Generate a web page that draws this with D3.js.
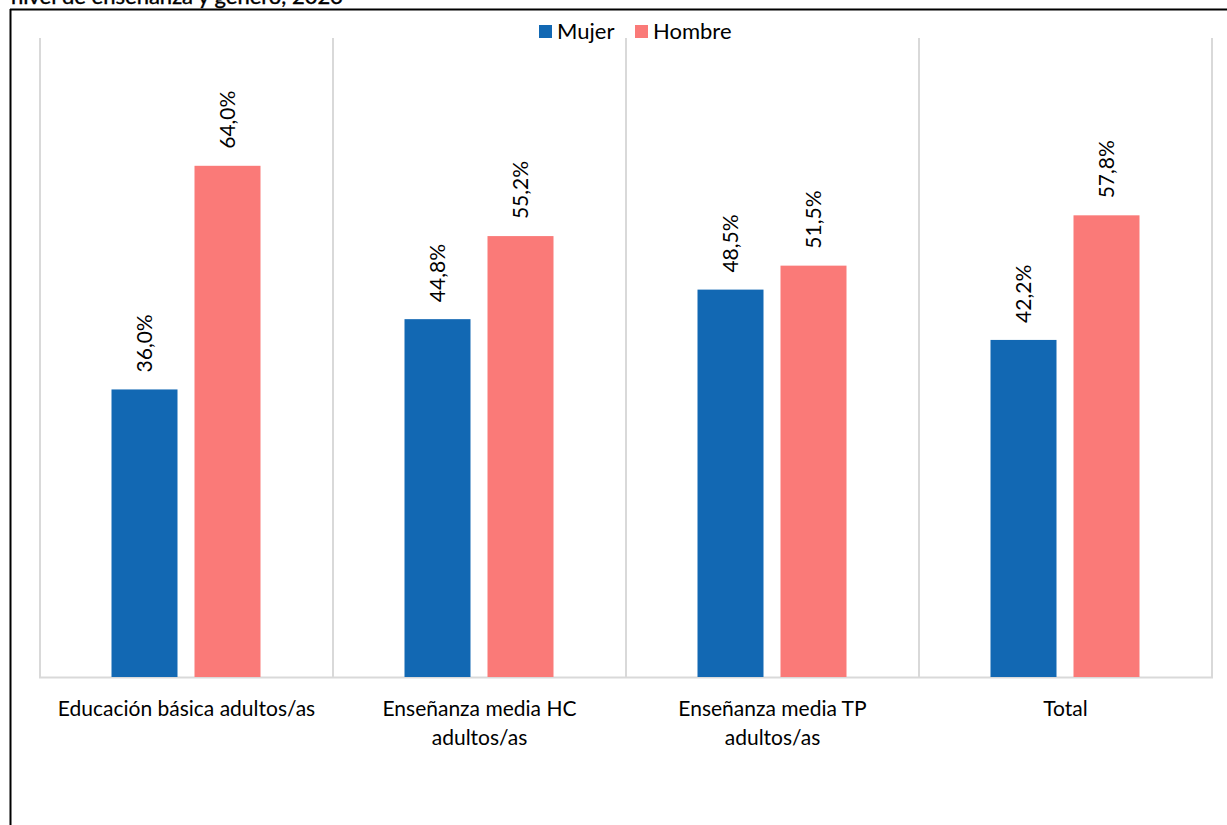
<!DOCTYPE html>
<html><head><meta charset="utf-8">
<script src="https://cdn.jsdelivr.net/npm/d3@7"></script>
<style>
html,body{margin:0;padding:0;background:#fff;overflow:hidden;}
text{font-family:Lato,"Open Sans",sans-serif;fill:#000;}
</style></head>
<body>
<svg id="chart" width="1227" height="825"></svg>
<script>
const categories = [["Educación básica adultos/as"], ["Enseñanza media HC", "adultos/as"], ["Enseñanza media TP", "adultos/as"], ["Total"]];
const seriesNames = ["Mujer", "Hombre"];
const mujer = [36.0, 44.8, 48.5, 42.2];
const hombre = [64.0, 55.2, 51.5, 57.8];
const colors = ["#1268b3", "#fa7a78"];
const titleText = "nivel de enseñanza y género, 2023";

(function () {
const svg = d3.select("#chart");
const pLeft = 40, pRight = 1212, pTop = 38, pBottom = 677;

// outer frame (partially cropped)
svg.append("line").attr("x1", 10).attr("x2", 1227).attr("y1", 9.5).attr("y2", 9.5).attr("stroke", "#000").attr("stroke-width", 2);
svg.append("line").attr("x1", 10.5).attr("x2", 10.5).attr("y1", 9).attr("y2", 825).attr("stroke", "#000").attr("stroke-width", 2);
svg.append("text").attr("x", 11).attr("y", 4).attr("font-size", 22).attr("stroke", "#000").attr("stroke-width", 0.4).text(titleText);

const x0 = d3.scaleBand().domain(d3.range(categories.length)).range([pLeft, pRight]).padding(0);
const y = d3.scaleLinear().domain([0, 80]).range([pBottom, pTop]);
const bw = 66, gap = 17;

// vertical category separators
const seps = [pLeft, ...d3.range(categories.length).map(i => x0(i) + x0.bandwidth())];
svg.selectAll(".sep").data(seps).join("line")
  .attr("x1", d => d).attr("x2", d => d).attr("y1", pTop).attr("y2", pBottom)
  .attr("stroke", "#d9d9d9").attr("stroke-width", 2);
svg.append("line").attr("x1", pLeft - 1).attr("x2", pRight + 1).attr("y1", pBottom + 0.5).attr("y2", pBottom + 0.5)
  .attr("stroke", "#d9d9d9").attr("stroke-width", 2);

const data = [mujer, hombre];
data.forEach((vals, s) => {
  const g = svg.append("g");
  vals.forEach((v, i) => {
    const cx = x0(i) + x0.bandwidth() / 2;
    const bx = s === 0 ? cx - gap / 2 - bw - 0.5 : cx + gap / 2 - 0.5;
    g.append("rect").attr("x", bx).attr("y", y(v)).attr("width", bw).attr("height", pBottom - y(v)).attr("fill", colors[s]);
    const tx = bx + bw / 2 + 7.5, ty = y(v) - 17;
    g.append("text").attr("transform", `translate(${tx},${ty}) rotate(-90)`)
      .attr("text-anchor", "start").attr("font-size", 21)
      .text(v.toFixed(1).replace(".", ",") + "%");
  });
});

// x labels
categories.forEach((lines, i) => {
  const cx = x0(i) + x0.bandwidth() / 2;
  const t = svg.append("text").attr("text-anchor", "middle").attr("font-size", 21);
  lines.forEach((l, j) => t.append("tspan").attr("x", cx).attr("y", 716 + j * 29).text(l));
});

// legend
const leg = svg.append("g");
const legX = [539, 635];
seriesNames.forEach((n, s) => {
  leg.append("rect").attr("x", legX[s]).attr("y", 25).attr("width", 13).attr("height", 13).attr("fill", colors[s]);
  leg.append("text").attr("x", legX[s] + 18).attr("y", 39).attr("font-size", 22).text(n);
});
})();
</script>
</body></html>
